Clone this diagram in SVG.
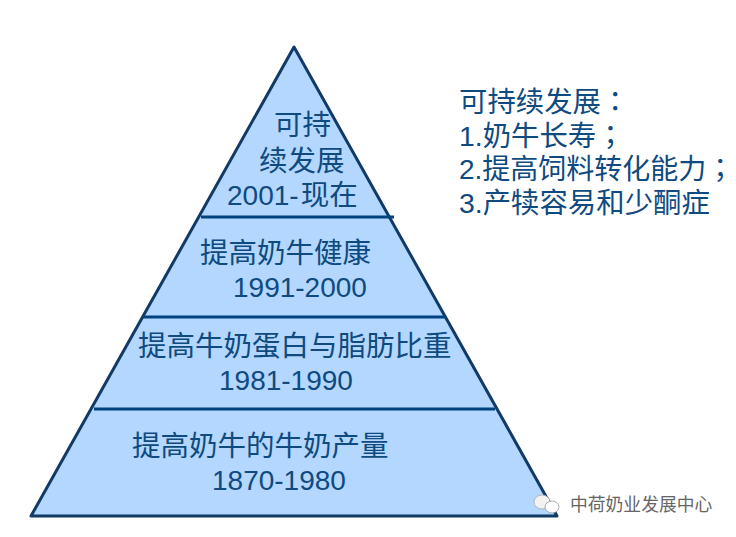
<svg xmlns="http://www.w3.org/2000/svg" width="736" height="537" viewBox="0 0 736 537">
<style>
text{font-family:"Liberation Sans","Noto Sans CJK SC",sans-serif;fill:#0f4a80}
.p{font-size:28.5px}
.n{font-size:28px}
.r{font-size:28.4px}
.s{font-size:28px}
.t{font-family:"Liberation Sans","Noto Sans CJK TC",sans-serif}
.d{stroke:#00437f;stroke-width:3;fill:none}
</style>
<rect width="736" height="537" fill="#fff"/>
<g id="pyramid"><polygon points="294,47 31,516 557,516" fill="#b3d7fe" stroke="#123a66" stroke-width="3" stroke-linejoin="round"/></g>
<g id="connectors">
<line class="d" x1="201" y1="217" x2="394" y2="217"/>
<line class="d" x1="143" y1="317" x2="446" y2="317"/>
<line class="d" x1="94" y1="409" x2="495" y2="409"/>
</g>
<g id="tier1">
<text class="p" x="274" y="135">可持</text>
<text class="p" x="259" y="171">续发展</text>
<text class="n" x="227" y="205">2001-<tspan class="p" dx="2">现在</tspan></text>
</g>
<g id="tier2">
<text class="p" x="200" y="263">提高奶牛健康</text>
<text class="n" x="233" y="297">1991-2000</text>
</g>
<g id="tier3">
<text class="p" x="138" y="356">提高牛奶蛋白与脂肪比重</text>
<text class="n" x="219" y="390">1981-1990</text>
</g>
<g id="tier4">
<text class="p" x="132" y="456">提高奶牛的牛奶产量</text>
<text class="n" x="212" y="490">1870-1980</text>
</g>
<g id="notes">
<text class="r" x="459" y="112">可持续发展<tspan class="t">：</tspan></text>
<text class="r" x="459" y="146">1.奶牛长寿<tspan class="t">；</tspan></text>
<text class="s" x="459" y="179">2.提高饲料转化能力<tspan class="t">；</tspan></text>
<text class="r" x="459" y="213">3.产犊容易和少酮症</text>
</g>
<g id="watermark">
<ellipse cx="542" cy="502" rx="8" ry="7" fill="#f2f2f2" stroke="#aaa" stroke-width="0.8"/>
<ellipse cx="552" cy="507" rx="7" ry="6" fill="#fff" stroke="#999" stroke-width="0.8"/>
<text x="570" y="511" font-size="17.8" style="fill:#666">中荷奶业发展中心</text>
</g>
</svg>
